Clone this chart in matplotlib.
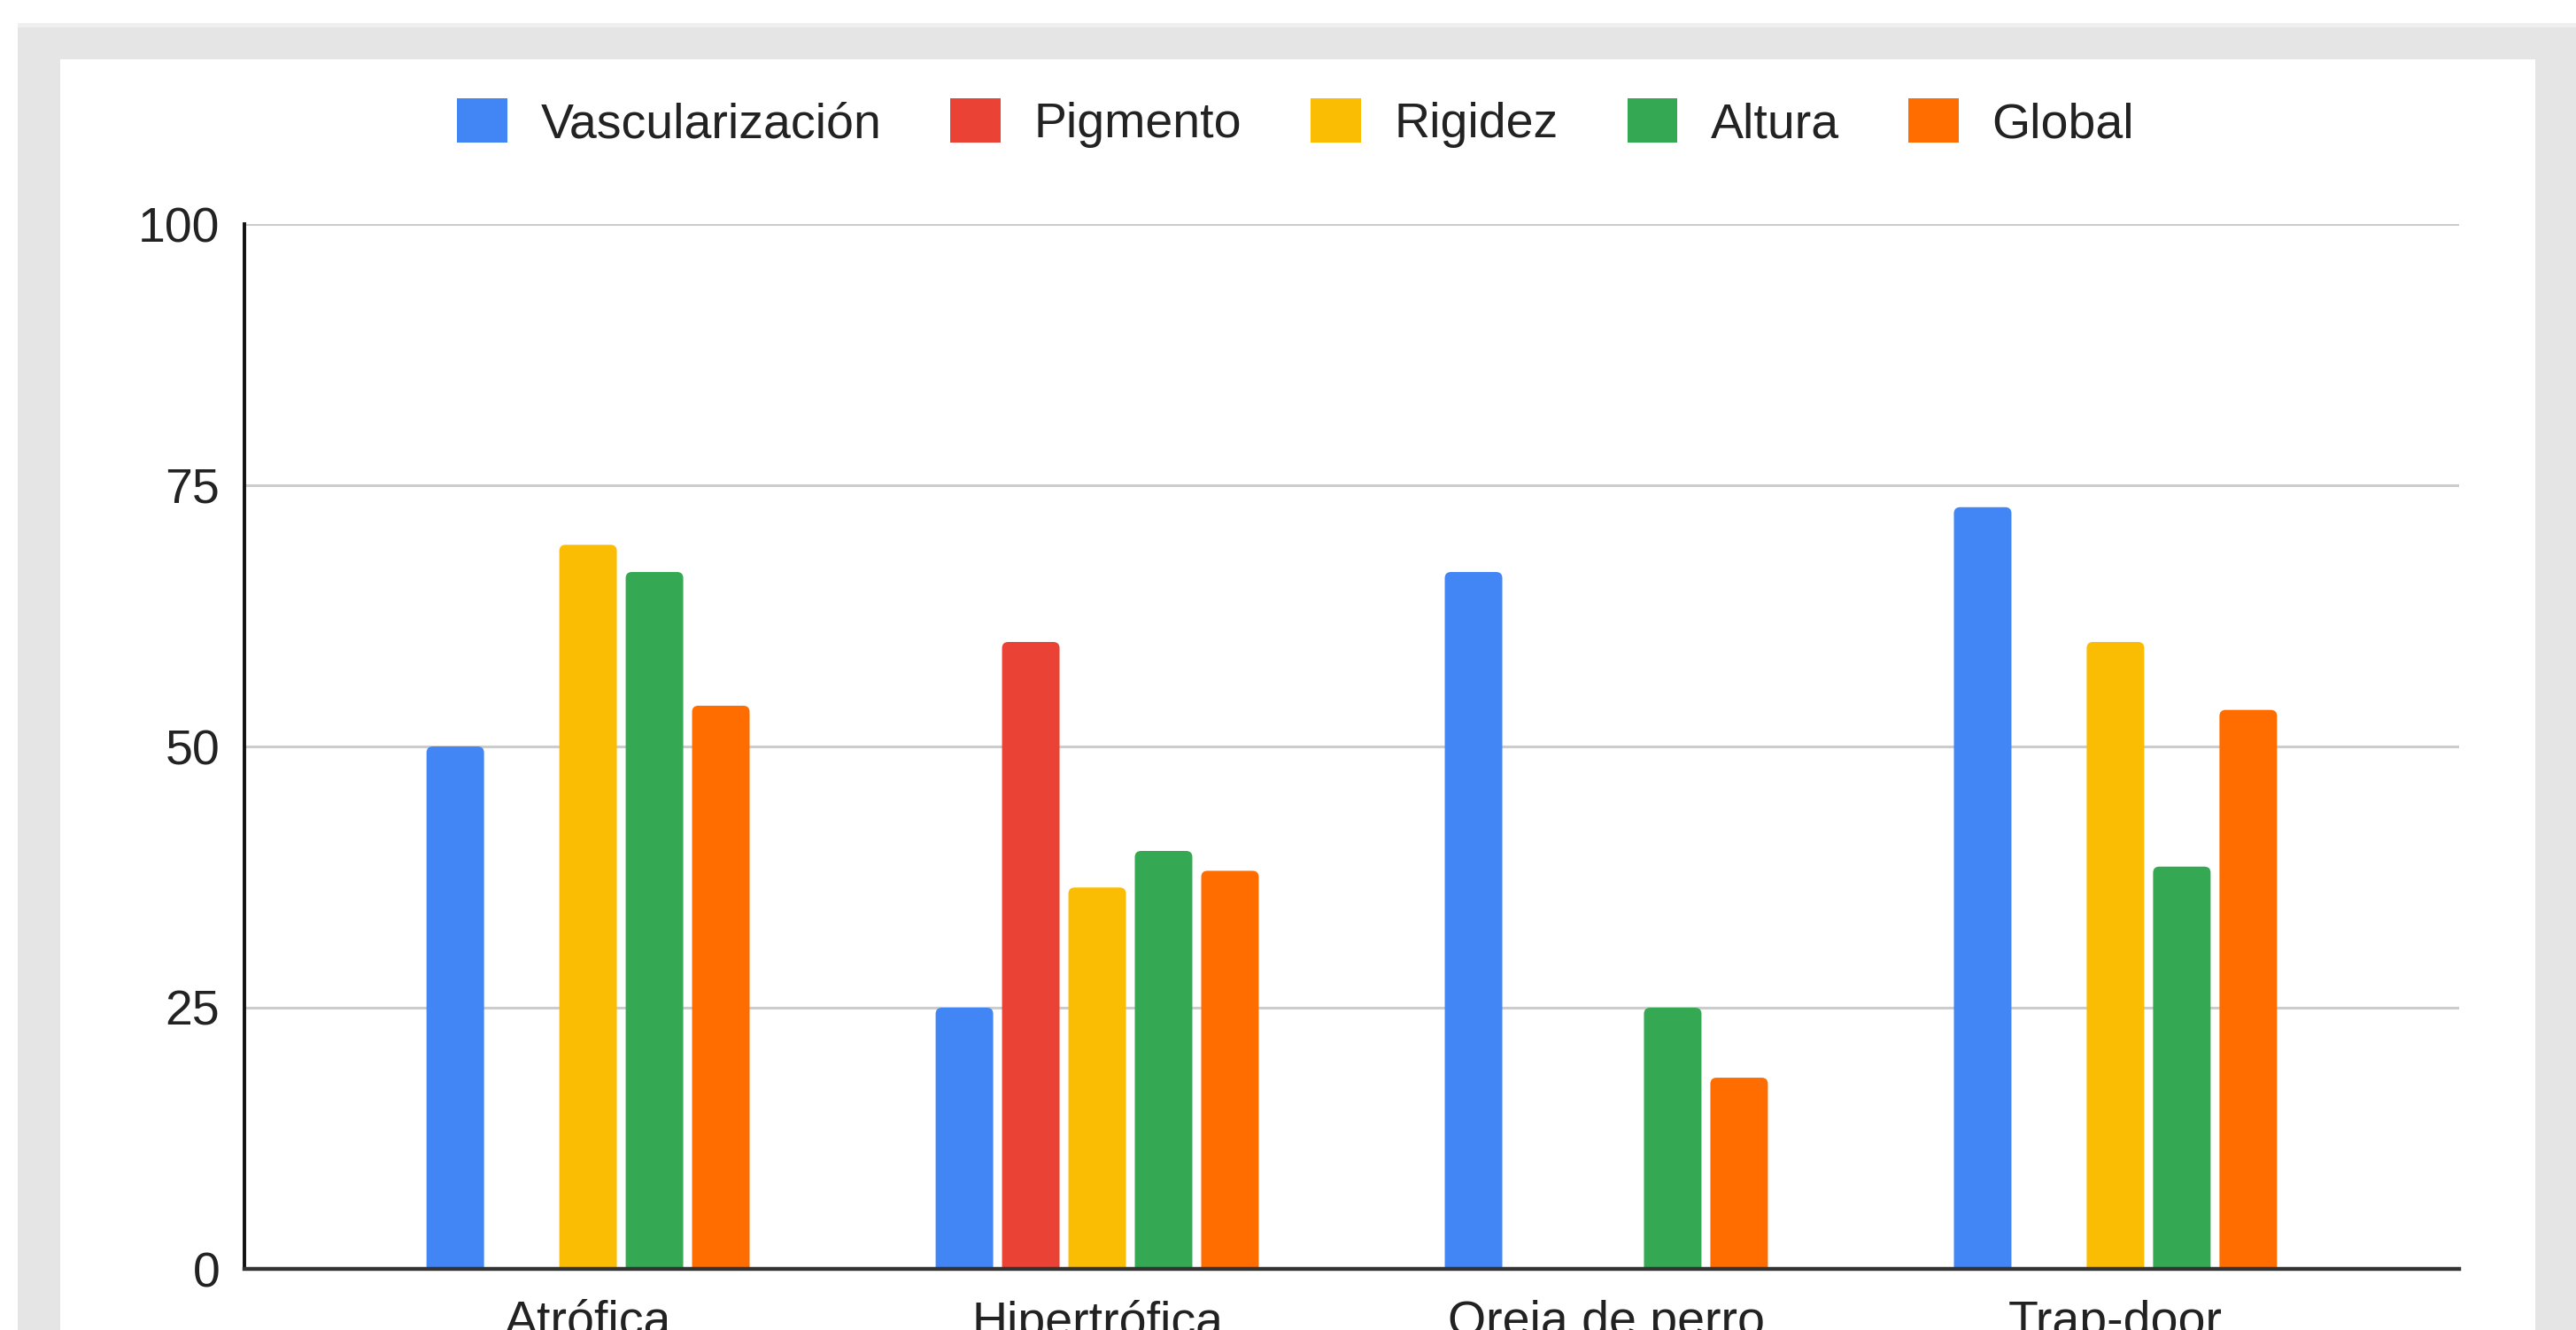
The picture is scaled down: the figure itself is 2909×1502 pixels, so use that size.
import numpy as np
import matplotlib
matplotlib.use("Agg")
import matplotlib.pyplot as plt
from matplotlib.patches import Rectangle, Patch, FancyBboxPatch

# === DATA ===
categories = ["Atrófica", "Hipertrófica", "Oreja de perro", "Trap-door"]
series_names = ["Vascularización", "Pigmento", "Rigidez", "Altura", "Global"]
vascularizacion = [50, 25, 66.7, 72.9]
pigmento = [0, 60, 0, 0]
rigidez = [69.3, 36.5, 0, 60]
altura = [66.7, 40, 25, 38.5]
global_ = [53.9, 38.1, 18.3, 53.5]
y_ticks = [0, 25, 50, 75, 100]

series_values = [vascularizacion, pigmento, rigidez, altura, global_]
colors = ["#4285F4", "#EA4335", "#FBBC04", "#34A853", "#FF6D01"]

plt.rcParams["font.family"] = ["Liberation Sans", "DejaVu Sans"]
TEXT_COLOR = "#222222"
FONT_SIZE = 40

W, H = 2909, 1502
fig = plt.figure(figsize=(W / 100, H / 100), dpi=100)
fig.patch.set_facecolor("white")

# === GRAY FRAME AND WHITE PANEL ===
def px_rect(x0, y0, x1, y1, color):
    fig.patches.append(Rectangle((x0 / W, 1 - y1 / H), (x1 - x0) / W, (y1 - y0) / H,
                                 transform=fig.transFigure, facecolor=color,
                                 edgecolor="none", zorder=-10))

px_rect(20, 26, W, H, "#efefef")
px_rect(20, 31, W, H, "#e5e5e5")
px_rect(68, 67, 2863, H, "white")

# === AXES ===
ax = fig.add_axes([276 / W, 1 - 1433 / H, (2777 - 276) / W, (1433 - 253) / H])
ax.set_facecolor("none")

x = np.arange(len(categories))
bar_w = 0.113
step = 0.1304
ax.set_xlim(-0.675, len(categories) - 1 + 0.675)
ax.set_ylim(0, 100)

# px per data unit, used to keep the rounded corners circular
x_px = (2777 - 276) / (ax.get_xlim()[1] - ax.get_xlim()[0])
y_px = (1433 - 253) / 100.0
radius = 7 / x_px

for i, (name, vals, c) in enumerate(zip(series_names, series_values, colors)):
    bars = ax.bar(x + (i - 2) * step, vals, width=bar_w, color=c, label=name,
                  linewidth=0, zorder=3)
    for b in bars:
        h = b.get_height()
        if h > 0:
            rb = FancyBboxPatch((b.get_x(), -2), b.get_width(), h + 2,
                                boxstyle=f"round,pad=0,rounding_size={radius}",
                                mutation_aspect=x_px / y_px,
                                facecolor=c, edgecolor="none", zorder=3)
            ax.add_patch(rb)
        b.remove()

ax.set_yticks(y_ticks)
ax.set_xticks(x)
ax.set_xticklabels(categories)
ax.tick_params(axis="both", length=0, labelsize=FONT_SIZE, labelcolor=TEXT_COLOR)
ax.tick_params(axis="y", pad=20)
ax.tick_params(axis="x", pad=25)

ax.yaxis.grid(True, color="#cccccc", linewidth=2.2, zorder=0)
ax.set_axisbelow(True)
for s in ["top", "right"]:
    ax.spines[s].set_visible(False)
ax.spines["left"].set_color("#111111")
ax.spines["left"].set_linewidth(2.8)
ax.spines["bottom"].set_color("#333333")
ax.spines["bottom"].set_linewidth(3.2)
ax.spines["bottom"].set_zorder(4)

# === LEGEND ===
handles = [Patch(facecolor=c, edgecolor="none") for c in colors]
fig.legend(handles, series_names, loc="center", ncol=5,
           bbox_to_anchor=(1463 / W, 1 - 139 / H), frameon=False,
           fontsize=FONT_SIZE, labelcolor=TEXT_COLOR,
           handlelength=1.02, handleheight=1.02, handletextpad=0.68,
           columnspacing=1.4, borderpad=0)

fig.savefig("out.png", dpi=100, facecolor="white")
